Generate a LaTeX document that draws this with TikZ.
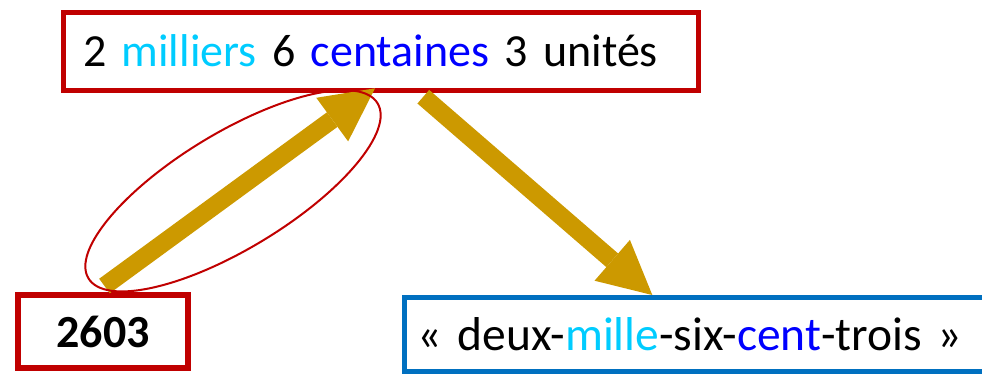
\documentclass[tikz,border=0pt]{standalone}
\usepackage{fontspec}
\setmainfont{Carlito}
\usetikzlibrary{arrows.meta}
\definecolor{boxred}{HTML}{C00000}
\definecolor{boxblue}{HTML}{0070C0}
\definecolor{arrowgold}{HTML}{CC9900}
\definecolor{lightcyan}{HTML}{00CCFF}
\definecolor{deepblue}{HTML}{0000FF}
\begin{document}
\begin{tikzpicture}[x=1pt,y=-1pt,
  framebox/.style={rectangle, line width=5pt, inner ysep=0pt},
  bigtext/.style={font=\fontsize{47.5}{57}\selectfont},
  bigarrow/.style={draw=arrowgold, line width=18pt,
    -{Triangle[width=54pt,length=53pt,line width=0pt]}},
  ring/.style={draw=boxred, line width=2pt}
]
\useasboundingbox (0,0) rectangle (982,373);

% boxes
\node[framebox, draw=boxred, font=\fontsize{46}{55}\selectfont, anchor=north west,
      minimum height=78pt, text width=635pt, align=left, inner xsep=0pt]
  (top) at (60.5,9.5)
  {\hspace*{20pt}2 \textcolor{lightcyan}{milliers} 6 \textcolor{deepblue}{centaines} 3 unités};

\node[framebox, draw=boxred, line width=6pt, font=\fontsize{46}{55}\selectfont\bfseries,
      minimum width=170pt, minimum height=73pt, inner xsep=0pt]
  (num) at (103,331.5) {\raisebox{-2pt}{2603}};

\node[framebox, draw=boxblue, line width=5.5pt, bigtext, anchor=north west,
      minimum height=74pt, text width=600pt, align=left, inner xsep=0pt]
  (words) at (401.5,294.5)
  {\hspace*{13.5pt}« deux-\textcolor{lightcyan}{mille}-six-\textcolor{deepblue}{cent}-trois »};

% arrow end points
\coordinate (a1s) at (104.5,286);
\coordinate (a1e) at (375,88.3);
\coordinate (a2s) at (423.3,96.7);
\coordinate (a2e) at (652.3,295);

\draw[bigarrow] (a1s) -- (a1e);
\draw[bigarrow] (a2s) -- (a2e);

% ellipse around the first arrow
\coordinate (ec) at (233,190.8);
\draw[ring] (ec) ellipse [x radius=169pt, y radius=58pt, rotate=31.2];
\end{tikzpicture}
\end{document}
